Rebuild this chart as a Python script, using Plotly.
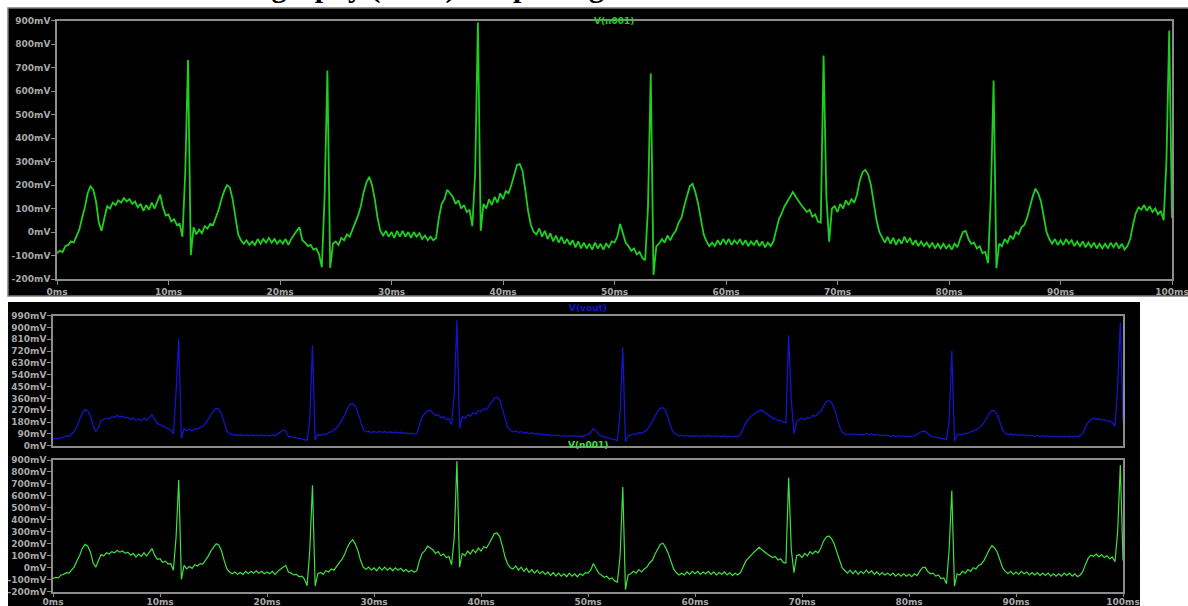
import plotly.graph_objects as go

# ---------------- data ----------------
STEP_MS = 0.25  # sample spacing of the read-off values (ms)

# V(n001) in mV, one value every 0.25 ms from 0 ms to 100 ms
n001_mv = [
    -90, -80, -85, -60, -55, -40, -45, -15, 10, 60, 105, 165, 195, 180, 130, 40, 5, 60, 110, 100,
    125, 115, 135, 125, 145, 130, 140, 120, 130, 105, 120, 90, 115, 95, 125, 100, 130, 160, 105, 70,
    75, 45, 55, 30, 35, -20, 250, 733, -98, 20, -10, 10, -5, 25, 15, 35, 30, 60, 95, 140,
    175, 200, 190, 140, 60, -10, -35, -50, -35, -55, -40, -55, -30, -50, -30, -45, -25, -45, -30, -50,
    -35, -50, -30, -55, -30, -10, 5, 20, -35, -45, -60, -55, -75, -70, -95, -150, 150, 688, -153, -50,
    -40, -55, -25, -35, -10, -20, 15, 40, 70, 110, 170, 210, 235, 200, 140, 60, 5, -15, 5, -20,
    0, -25, 5, -20, 5, -20, 0, -25, 0, -20, -5, -30, -15, -35, -20, -35, -25, 60, 120, 140,
    180, 165, 150, 120, 135, 100, 115, 85, 95, 25, 250, 892, 5, 120, 100, 140, 115, 150, 125, 165,
    140, 175, 165, 200, 240, 285, 290, 260, 180, 90, 30, 0, -10, 15, -20, 5, -30, -5, -40, -15,
    -45, -20, -50, -30, -55, -35, -65, -40, -70, -45, -70, -50, -75, -45, -70, -50, -75, -50, -65, -40,
    -45, -20, 35, 0, -45, -60, -80, -70, -95, -85, -110, -120, 100, 675, -183, -60, -50, -30, -45, -15,
    -35, -10, 5, 40, 60, 110, 150, 195, 205, 170, 120, 50, -10, -40, -60, -45, -60, -35, -55, -30,
    -50, -30, -55, -35, -50, -30, -55, -35, -60, -40, -55, -35, -60, -40, -65, -45, -60, -40, 10, 55,
    80, 110, 130, 150, 170, 150, 130, 115, 100, 85, 95, 65, 75, 45, 40, 752, 150, -41, 100, 110,
    85, 120, 100, 135, 115, 140, 125, 160, 220, 255, 265, 245, 200, 130, 50, 0, -25, -45, -20, -50,
    -25, -55, -30, -50, -20, -45, -25, -55, -35, -60, -40, -60, -45, -65, -45, -70, -50, -70, -50, -70,
    -55, -75, -50, -65, -30, 0, 5, -30, -50, -45, -70, -60, -90, -85, -133, 150, 645, -154, -50, -60,
    -30, -45, -15, -30, 0, -10, 20, 30, 60, 110, 150, 185, 165, 130, 60, 0, -30, -50, -30, -55,
    -35, -55, -30, -50, -35, -60, -40, -60, -40, -65, -45, -65, -45, -70, -50, -70, -50, -70, -45, -65,
    -45, -70, -50, -75, -60, -30, 30, 80, 105, 95, 115, 90, 110, 85, 100, 75, 90, 50, 300, 858, 60,
]

# V(vout) in mV, one value every 0.25 ms from 0 ms to 100 ms
vout_mv = [
    50, 55, 52, 62, 65, 75, 72, 90, 110, 150, 200, 250, 275, 265, 225, 150, 110, 140, 190, 200,
    210, 205, 220, 215, 230, 220, 225, 210, 215, 200, 210, 190, 205, 190, 210, 195, 215, 235, 200, 170,
    160, 150, 145, 130, 120, 90, 400, 815, 55, 130, 115, 125, 115, 130, 125, 140, 145, 170, 200, 240,
    265, 284, 280, 240, 170, 110, 90, 85, 80, 78, 85, 75, 82, 76, 84, 75, 80, 74, 82, 76,
    80, 74, 84, 76, 90, 105, 118, 110, 72, 68, 62, 60, 55, 52, 48, 40, 200, 765, 43, 85,
    80, 90, 85, 100, 105, 120, 135, 160, 190, 230, 280, 315, 320, 300, 250, 180, 120, 105, 110, 100,
    108, 100, 110, 102, 108, 100, 106, 98, 104, 96, 102, 94, 98, 90, 95, 88, 92, 160, 220, 245,
    265, 270, 250, 230, 235, 215, 220, 200, 205, 160, 400, 955, 130, 220, 210, 235, 225, 250, 240, 265,
    260, 280, 275, 300, 330, 360, 370, 350, 280, 200, 140, 115, 105, 112, 100, 108, 95, 102, 90, 98,
    88, 94, 84, 90, 80, 86, 76, 82, 74, 80, 72, 78, 70, 78, 72, 76, 70, 75, 72, 80,
    85, 100, 130, 115, 85, 75, 65, 62, 55, 52, 45, 40, 250, 750, 30, 75, 80, 90, 85, 100,
    95, 110, 120, 150, 180, 220, 260, 285, 290, 265, 210, 140, 100, 85, 75, 80, 72, 78, 70, 76,
    72, 78, 70, 76, 72, 78, 70, 76, 68, 74, 70, 76, 68, 74, 66, 72, 70, 85, 130, 175,
    200, 225, 240, 255, 265, 270, 255, 235, 225, 210, 205, 190, 195, 180, 175, 840, 350, 90, 180, 200,
    210, 200, 215, 210, 230, 225, 245, 260, 300, 335, 345, 330, 290, 220, 150, 105, 90, 85, 92, 84,
    90, 82, 88, 80, 95, 84, 90, 80, 86, 76, 82, 74, 80, 72, 78, 70, 76, 70, 75, 68,
    74, 70, 76, 85, 100, 110, 112, 95, 75, 68, 64, 60, 56, 55, 50, 180, 727, 36, 80, 90,
    85, 95, 92, 105, 110, 120, 135, 150, 175, 210, 245, 268, 265, 235, 180, 120, 95, 85, 90, 80,
    86, 78, 84, 76, 82, 74, 80, 72, 78, 70, 76, 70, 74, 68, 74, 68, 72, 66, 72, 68,
    72, 68, 74, 70, 78, 95, 140, 180, 200, 210, 200, 205, 195, 200, 185, 190, 175, 150, 450, 937, 182,
]

time_ticks_ms = [0, 10, 20, 30, 40, 50, 60, 70, 80, 90, 100]
time_tick_text = ["0ms", "10ms", "20ms", "30ms", "40ms", "50ms", "60ms", "70ms", "80ms", "90ms", "100ms"]
n001_ticks = [-200, -100, 0, 100, 200, 300, 400, 500, 600, 700, 800, 900]
n001_tick_text = ["-200mV", "-100mV", "0mV", "100mV", "200mV", "300mV", "400mV",
                  "500mV", "600mV", "700mV", "800mV", "900mV"]
vout_ticks = [0, 90, 180, 270, 360, 450, 540, 630, 720, 810, 900, 990]
vout_tick_text = ["0mV", "90mV", "180mV", "270mV", "360mV", "450mV", "540mV",
                  "630mV", "720mV", "810mV", "900mV", "990mV"]

n001_t = [i * STEP_MS for i in range(len(n001_mv))]
vout_t = [i * STEP_MS for i in range(len(vout_mv))]

# ---------------- figure ----------------
W, H = 1188, 606


def px(x):
    return x / W


def py(y):
    return 1 - y / H


GREEN_TOP = "#1fcf1f"
GREEN_BOT = "#3fe03f"
BLUE = "#1414c8"
AXIS = "#8c8c8c"
LABEL = "#a8a8a8"
FONT = "DejaVu Sans"

fig = go.Figure()
fig.add_trace(go.Scatter(x=n001_t, y=n001_mv, mode="lines", xaxis="x", yaxis="y",
                         line=dict(color=GREEN_TOP, width=1.8), hoverinfo="skip"))
fig.add_trace(go.Scatter(x=vout_t, y=vout_mv, mode="lines", xaxis="x2", yaxis="y2",
                         line=dict(color=BLUE, width=1.3), hoverinfo="skip"))
fig.add_trace(go.Scatter(x=n001_t, y=n001_mv, mode="lines", xaxis="x3", yaxis="y3",
                         line=dict(color=GREEN_BOT, width=1.2), hoverinfo="skip"))

tickfont = dict(family=FONT, size=9, color=LABEL, weight="bold")


def xax(dom, anchor, labels=True, standoff=0):
    return dict(domain=dom, anchor=anchor, range=[0, 100], tickvals=time_ticks_ms,
                ticktext=time_tick_text, showticklabels=labels,
                ticks="outside" if labels else "", ticklen=4, tickcolor=AXIS,
                showline=True, linecolor=AXIS, linewidth=1.5, mirror=True,
                showgrid=False, zeroline=False, tickfont=tickfont, fixedrange=True,
                automargin=False, ticklabelstandoff=standoff, ticklabeloverflow="allow")


def yax(dom, anchor, rng, vals, text):
    return dict(domain=dom, anchor=anchor, range=rng, tickvals=vals, ticktext=text,
                ticks="outside", ticklen=4, tickcolor=AXIS,
                showline=True, linecolor=AXIS, linewidth=1.5, mirror=True,
                showgrid=False, zeroline=False, tickfont=tickfont, fixedrange=True,
                automargin=False, ticklabelstandoff=-1, ticklabeloverflow="allow")


fig.update_layout(
    width=W, height=H, margin=dict(l=0, r=0, t=0, b=0, autoexpand=False),
    paper_bgcolor="white", plot_bgcolor="black", showlegend=False,
    xaxis=xax([px(57), px(1172)], "y", standoff=-1),
    yaxis=yax([py(279), py(20.7)], "x", [-200, 900], n001_ticks, n001_tick_text),
    xaxis2=xax([px(53), px(1123)], "y2", labels=False),
    yaxis2=yax([py(445.7), py(315.7)], "x2", [0, 990], vout_ticks, vout_tick_text),
    xaxis3=xax([px(53), px(1123)], "y3", standoff=-3),
    yaxis3=yax([py(591.7), py(460)], "x3", [-200, 900], n001_ticks, n001_tick_text),
    shapes=[
        dict(type="rect", xref="paper", yref="paper", x0=px(8), x1=1.01, y0=py(296), y1=py(8),
             fillcolor="black", line=dict(color="#7a7a7a", width=1.5), layer="below"),
        dict(type="rect", xref="paper", yref="paper", x0=px(8), x1=px(1140), y0=-0.01, y1=py(302),
             fillcolor="black", line=dict(width=0), layer="below"),
    ],
    annotations=[
        dict(text="V(n001)", xref="paper", yref="paper", x=px(614), y=py(14),
             showarrow=False, font=dict(family=FONT, size=9, color=GREEN_TOP, weight="bold")),
        dict(text="V(vout)", xref="paper", yref="paper", x=px(588), y=py(308),
             showarrow=False, font=dict(family=FONT, size=9, color=BLUE, weight="bold")),
        dict(text="V(n001)", xref="paper", yref="paper", x=px(588), y=py(452),
             showarrow=False, font=dict(family=FONT, size=9, color=GREEN_BOT, weight="bold")),
        dict(text="Electrocardiography (ECG) Output Signal", xref="paper", yref="paper",
             x=px(95), y=py(6), xanchor="left", yanchor="bottom", showarrow=False,
             font=dict(family="Liberation Serif", size=30, color="black", weight="bold")),
    ],
)

fig.write_html("out.html", config={"displayModeBar": False},
               post_script="document.body.style.margin='0px';document.body.style.overflow='hidden';")
